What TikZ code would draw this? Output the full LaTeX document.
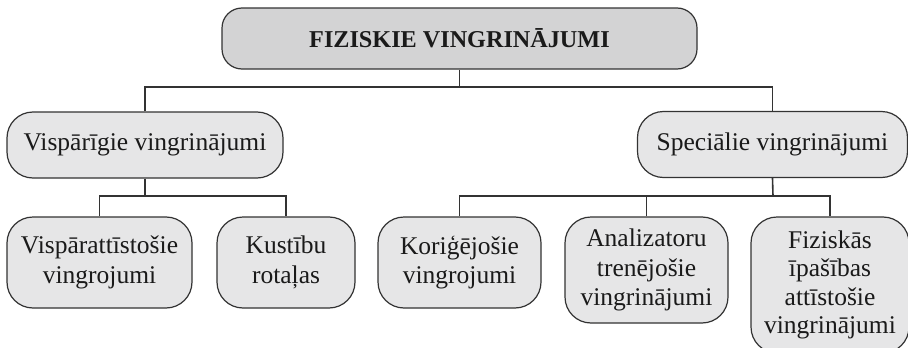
\documentclass[tikz,border=0pt]{standalone}
\usepackage{fontspec}
\setmainfont{Liberation Serif}
\definecolor{boxfill}{HTML}{E6E6E7}
\definecolor{topfill}{HTML}{D3D3D4}
\definecolor{edge}{HTML}{333333}
\definecolor{ink}{HTML}{1A1A1A}
\begin{document}
\begin{tikzpicture}[x=1pt,y=-1pt,
  box/.style={draw=edge, line width=1.2pt, fill=boxfill, rounded corners=26pt,
    rectangle, inner sep=0pt, align=center, text=ink,
    font=\fontsize{25.5}{29.5}\selectfont},
  link/.style={draw=edge, line width=1.6pt}]
\clip (0,0) rectangle (908,348);
\fill[white] (0,0) rectangle (908,348);
\node[box, fill=topfill, rounded corners=20pt, minimum width=475pt, minimum height=61pt,
  font=\fontsize{24.2}{28}\selectfont\bfseries] (top) at (459.5,38.5) {FIZISKIE VINGRINĀJUMI};
\node[box, minimum width=276pt, minimum height=66pt] (vis) at (145,145) {Vispārīgie vingrinājumi};
\node[box, minimum width=270pt, minimum height=66pt] (spec) at (772.5,144.5) {Speciālie vingrinājumi};
\node[box, minimum width=185pt, minimum height=91pt] (c1) at (99.5,262.5) {Vispārattīstošie\\vingrojumi};
\node[box, minimum width=138pt, minimum height=91pt] (c2) at (286,262.5) {Kustību\\rotaļas};
\node[box, minimum width=163pt, minimum height=91pt] (c3) at (459.5,262.5) {Koriģējošie\\vingrojumi};
\node[box, minimum width=163pt, minimum height=106pt] (c4) at (646.5,270) {Analizatoru\\trenējošie\\vingrinājumi};
\node[box, minimum width=158pt, minimum height=136pt, font=\fontsize{25.5}{28.5}\selectfont] (c5) at (830,285) {Fiziskās\\īpašības\\attīstošie\\vingrinājumi};
\coordinate (b1) at (459.5,87);
\coordinate (b2) at (145,196);
\coordinate (b3) at (773,196);
\draw[link] (top.south) -- (b1);
\draw[link] (vis.north) |- (b1) -| (spec.north);
\draw[link] (vis.south) -- (b2);
\draw[link] (c1.north) |- (b2) -| (c2.north);
\draw[link] (spec.south) -- (b3);
\draw[link] (c3.north) |- (b3) -| (c5.north);
\draw[link] (c4.north) -- (c4.north |- b3);
\end{tikzpicture}
\end{document}
